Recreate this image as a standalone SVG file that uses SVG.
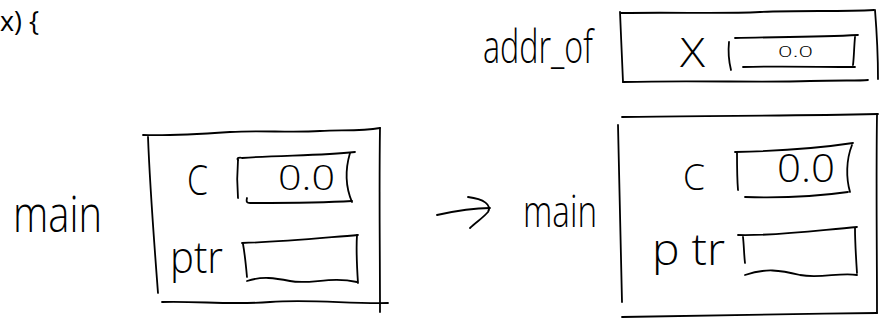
<svg xmlns="http://www.w3.org/2000/svg" width="888" height="322" viewBox="0 0 888 322">
<style>
.s{fill:none;stroke:#000;stroke-width:1.8;stroke-linecap:round;stroke-linejoin:round}
.h{font-family:"Open Sans","DejaVu Sans",sans-serif;font-weight:300;fill:#000}
.c{font-family:"Open Sans","Liberation Sans",sans-serif;font-weight:500;fill:#000}
</style>
<rect width="888" height="322" fill="#fff"/>
<text class="c" x="0" y="31" font-size="27" textLength="39" lengthAdjust="spacingAndGlyphs">x) {</text>

<g id="addr_of">
  <text class="h" x="483" y="63" font-size="46" textLength="110" lengthAdjust="spacingAndGlyphs">addr_of</text>
  <path class="s" d="M620,12 C621,35 622,60 623,82"/>
  <path class="s" d="M621,13 C680,12 720,14 760,12 C800,10 840,12 874,10"/>
  <path class="s" d="M875,10 C877,35 878,58 878,79"/>
  <path class="s" d="M623,82 C700,80 760,83 810,81 C840,80 858,81 868,80"/>
  <text class="h" x="680" y="67" font-size="40" textLength="25" lengthAdjust="spacingAndGlyphs">X</text>
  <g id="addr_of_x">
    <path class="s" d="M729,42 C728,52 729,62 731,70"/>
    <path class="s" d="M735,38 C780,37 820,37 858,35"/>
    <path class="s" d="M855,37 C854,48 854,57 853,65"/>
    <path class="s" d="M743,67 C780,66 820,67 855,67"/>
    <text class="h" x="778" y="57" font-size="15" textLength="35" lengthAdjust="spacingAndGlyphs">0.0</text>
  </g>
</g>

<text class="h" x="13" y="232" font-size="50" textLength="89" lengthAdjust="spacingAndGlyphs">main</text>

<g id="main_before">
  <path class="s" d="M143,135 C170,136 200,134 230,132 C260,130 290,133 320,131 C345,130 362,131 380,128"/>
  <path class="s" d="M148,137 C150,190 154,240 158,293"/>
  <path class="s" d="M380,128 C379,190 380,250 380,312"/>
  <path class="s" d="M162,302 C200,301 230,305 270,302 C310,299 350,304 388,303"/>
  <text class="h" x="187" y="195" font-size="42" textLength="21" lengthAdjust="spacingAndGlyphs">C</text>
  <g id="before_c">
    <path class="s" d="M238,160 C237,172 237,186 238,198"/>
    <path class="s" d="M238,160 C236,158 240,157 242,158 C280,155 320,156 355,152"/>
    <path class="s" d="M350,153 C345,170 346,188 352,202"/>
    <path class="s" d="M247,198 C246,202 247,203 250,203 C290,203 320,203 352,201"/>
    <text class="h" x="278" y="190" font-size="35" textLength="57" lengthAdjust="spacingAndGlyphs">0.0</text>
  </g>
  <text class="h" x="170" y="273" font-size="44" textLength="53" lengthAdjust="spacingAndGlyphs">ptr</text>
  <g id="before_ptr">
    <path class="s" d="M243,244 C245,255 246,266 247,277"/>
    <path class="s" d="M242,243 C280,242 320,238 358,235"/>
    <path class="s" d="M357,235 C356,250 357,268 358,283"/>
    <path class="s" d="M247,281 C262,276 275,278 290,281 C310,285 330,276 357,282"/>
  </g>
</g>

<g id="connectors">
  <path class="s" d="M437,215 C455,211 472,208 490,208"/>
  <path class="s" d="M468,197 C484,199 492,205 488,212 C483,218 476,222 470,228"/>
</g>

<text class="h" x="523" y="227" font-size="44" textLength="74" lengthAdjust="spacingAndGlyphs">main</text>

<g id="main_after">
  <path class="s" d="M622,117 C700,116 780,116 878,114"/>
  <path class="s" d="M618,125 C619,190 621,250 622,302"/>
  <path class="s" d="M877,115 C876,180 877,250 877,313"/>
  <path class="s" d="M622,317 C700,316 790,314 877,313"/>
  <text class="h" x="683" y="190" font-size="36" textLength="22" lengthAdjust="spacingAndGlyphs">C</text>
  <g id="after_c">
    <path class="s" d="M737,152 C737,165 737,178 738,190"/>
    <path class="s" d="M735,152 C780,151 820,148 853,143"/>
    <path class="s" d="M852,145 C846,160 846,178 850,192"/>
    <path class="s" d="M745,197 C780,198 820,196 848,192"/>
    <text class="h" x="777" y="182" font-size="38" textLength="58" lengthAdjust="spacingAndGlyphs">0.0</text>
  </g>
  <text class="h" x="652" y="265" font-size="44" textLength="73" lengthAdjust="spacingAndGlyphs">p tr</text>
  <g id="after_ptr">
    <path class="s" d="M743,237 C744,246 744,255 745,263"/>
    <path class="s" d="M738,235 C780,236 820,230 857,227"/>
    <path class="s" d="M855,228 C855,243 856,258 857,273"/>
    <path class="s" d="M745,275 C765,268 780,270 800,275 C820,279 840,272 857,275"/>
  </g>
</g>
</svg>
